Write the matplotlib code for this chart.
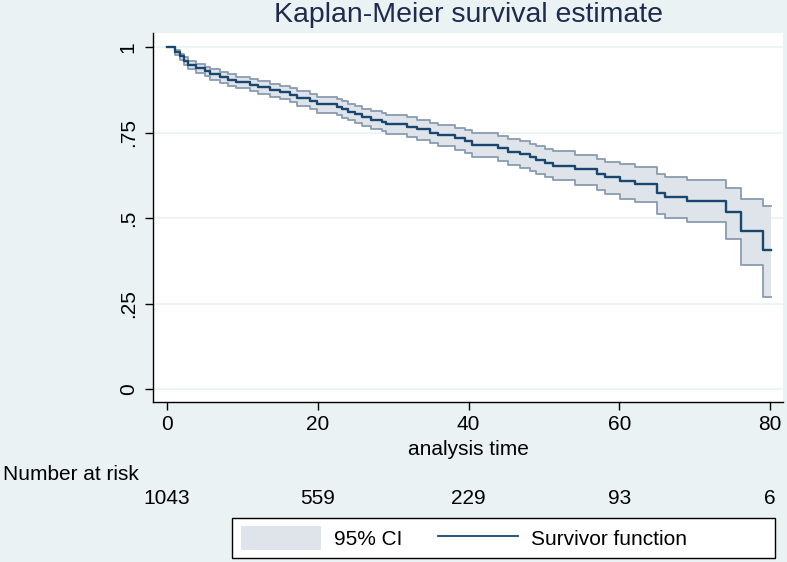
import matplotlib
matplotlib.use("Agg")
import matplotlib.pyplot as plt
import matplotlib.transforms as mtransforms
from matplotlib.patches import Patch, Rectangle
from matplotlib.lines import Line2D
import numpy as np

plt.rcParams['font.family'] = ['Liberation Sans', 'DejaVu Sans']

# Kaplan-Meier steps (step start time, survival, 95% CI)
step_times = [0, 1.1, 1.7, 2.2, 2.8, 3.9, 5.0, 5.7, 7.0, 8.1, 9.2, 11.0, 12.1, 13.7,
              15.0, 16.3, 17.2, 19.0, 19.9, 22.5, 23.2, 24.0, 24.9, 25.8, 27.1, 28.5,
              29.1, 31.8, 33.1, 34.9, 36.0, 38.2, 39.5, 40.5, 43.9, 45.2, 46.8, 48.1,
              49.0, 50.1, 51.2, 54.1, 57.0, 58.1, 60.1, 62.1, 65.0, 66.0, 69.0, 74.1,
              76.1, 79.1]
surv = [1.0, 0.985, 0.973, 0.960, 0.948, 0.939, 0.929, 0.921, 0.911, 0.904, 0.897,
        0.890, 0.882, 0.875, 0.868, 0.861, 0.851, 0.841, 0.832, 0.825, 0.818, 0.811,
        0.803, 0.796, 0.788, 0.782, 0.775, 0.767, 0.759, 0.750, 0.743, 0.733, 0.726,
        0.713, 0.704, 0.694, 0.686, 0.677, 0.670, 0.662, 0.653, 0.642, 0.629, 0.619,
        0.608, 0.600, 0.573, 0.562, 0.550, 0.518, 0.463, 0.406]
ci_lo = [1.0, 0.977, 0.963, 0.948, 0.935, 0.925, 0.914, 0.905, 0.894, 0.886, 0.879,
         0.871, 0.862, 0.855, 0.847, 0.840, 0.829, 0.818, 0.808, 0.801, 0.793, 0.786,
         0.777, 0.770, 0.761, 0.754, 0.746, 0.737, 0.729, 0.718, 0.710, 0.699, 0.691,
         0.677, 0.667, 0.656, 0.647, 0.637, 0.629, 0.620, 0.610, 0.597, 0.582, 0.570,
         0.556, 0.547, 0.512, 0.500, 0.489, 0.438, 0.363, 0.270]
ci_hi = [1.0, 0.991, 0.981, 0.970, 0.959, 0.951, 0.942, 0.935, 0.926, 0.920, 0.913,
         0.907, 0.900, 0.893, 0.887, 0.880, 0.871, 0.862, 0.854, 0.848, 0.841, 0.834,
         0.827, 0.820, 0.813, 0.808, 0.801, 0.794, 0.787, 0.779, 0.773, 0.764, 0.758,
         0.748, 0.740, 0.731, 0.724, 0.716, 0.710, 0.703, 0.695, 0.685, 0.674, 0.665,
         0.657, 0.650, 0.629, 0.620, 0.611, 0.588, 0.556, 0.535]
t_end = 80.1

risk_times = [0, 20, 40, 60, 80]
at_risk = [1043, 559, 229, 93, 6]

x_ticks = [0, 20, 40, 60, 80]
y_ticks = [0, 0.25, 0.5, 0.75, 1]
y_ticklabels = ['0', '.25', '.5', '.75', '1']

bg = '#EAF2F3'
navy = '#1A476F'
ci_fill = '#DFE3EA'
ci_edge = '#8A9CB0'

fig = plt.figure(figsize=(7.87, 5.62), dpi=100, facecolor=bg)
W, H = 787, 562
ax = fig.add_axes([153 / W, 1 - 402 / H, (783 - 153) / W, (402 - 33) / H])
ax.set_facecolor('white')

tt = np.append(step_times, t_end)
s = np.append(surv, surv[-1])
lo = np.append(ci_lo, ci_lo[-1])
hi = np.append(ci_hi, ci_hi[-1])

ax.fill_between(tt, lo, hi, step='post', color=ci_fill, lw=0, zorder=2)
ax.step(tt, lo, where='post', color=ci_edge, lw=1.3, zorder=3)
ax.step(tt, hi, where='post', color=ci_edge, lw=1.3, zorder=3)
ax.step(tt, s, where='post', color=navy, lw=1.7, zorder=4)

ax.set_xlim(-1.86, 81.7)
ax.set_ylim(-0.038, 1.041)
ax.set_xticks(x_ticks)
ax.set_yticks(y_ticks)
ax.set_yticklabels(y_ticklabels, rotation=90, va='center')
ax.tick_params(axis='both', labelsize=15, length=6, width=1, color='black')
ax.tick_params(axis='y', pad=5)
ax.tick_params(axis='x', pad=3)
ax.grid(axis='y', color=bg, lw=1.2, zorder=1)
ax.set_axisbelow(True)
for side in ['top', 'right']:
    ax.spines[side].set_visible(False)
for side in ['left', 'bottom']:
    ax.spines[side].set_linewidth(1)

ax.set_xlabel('analysis time', fontsize=15, labelpad=5)
ax.set_title('Kaplan-Meier survival estimate', fontsize=20.5, color='#1E2B4D', pad=8)

# number at risk table
trans = mtransforms.blended_transform_factory(ax.transData, fig.transFigure)
fig.text(3 / W, 1 - 474 / H, 'Number at risk', fontsize=15, ha='left', va='center')
for t, n in zip(risk_times, at_risk):
    ax.text(t, 1 - 498 / H, str(n), fontsize=15, ha='center', va='center',
            transform=trans, clip_on=False)

# legend
fig.patches.append(Rectangle((232 / W, 1 - 558 / H), (775 - 232) / W, 40 / H,
                             transform=fig.transFigure, facecolor='white',
                             edgecolor='black', lw=1))
handles = [Patch(facecolor=ci_fill, edgecolor='none', label='95% CI'),
           Line2D([], [], color=navy, lw=1.3, label='Survivor function')]
fig.legend(handles=handles, loc='center left', ncol=2, frameon=False,
           bbox_to_anchor=(241 / W, 1 - 538 / H), bbox_transform=fig.transFigure,
           fontsize=15, handlelength=3.85, handleheight=1.35, handletextpad=0.62,
           columnspacing=1.7, borderpad=0, borderaxespad=0)

fig.savefig('out.png', dpi=100, facecolor=bg)
